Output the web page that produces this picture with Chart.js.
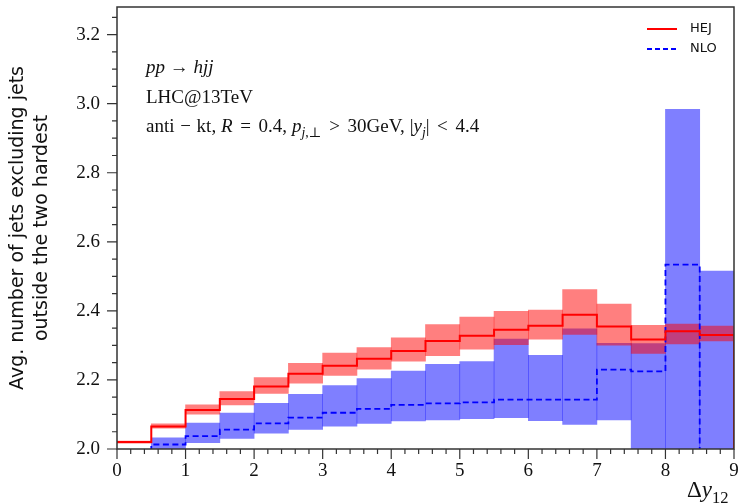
<!DOCTYPE html>
<html>
<head>
<meta charset="utf-8">
<script src="https://cdn.jsdelivr.net/npm/chart.js@4"></script>
<style>
  html, body { margin: 0; padding: 0; background: #fff; }
  #wrap { width: 740px; height: 503px; }
</style>
</head>
<body>
<div id="wrap"><canvas id="myChart" width="740" height="503"></canvas></div>
<script>
// Lower edge of each Δy12 bin, every bin is 0.5 wide
const binLow = [0, 0.5, 1, 1.5, 2, 2.5, 3, 3.5, 4, 4.5, 5, 5.5, 6, 6.5, 7, 7.5, 8, 8.5];
const binWidth = 0.5;

// HEJ: central value and uncertainty band
const hejCentral = [2.020, 2.065, 2.113, 2.145, 2.181, 2.218, 2.241, 2.261, 2.284, 2.313, 2.328, 2.345, 2.357, 2.389, 2.355, 2.317, 2.341, 2.330];
const hejLow     = [2.017, 2.060, 2.101, 2.128, 2.161, 2.191, 2.213, 2.231, 2.254, 2.270, 2.289, 2.302, 2.318, 2.332, 2.301, 2.277, 2.304, 2.313];
const hejHigh    = [2.023, 2.073, 2.128, 2.166, 2.207, 2.248, 2.278, 2.294, 2.322, 2.360, 2.382, 2.399, 2.402, 2.462, 2.420, 2.358, 2.362, 2.356];

// NLO: central value and uncertainty band (null = nothing drawn in that bin)
const nloCentral = [0, 2.013, 2.037, 2.056, 2.074, 2.091, 2.105, 2.116, 2.128, 2.132, 2.135, 2.143, 2.143, 2.143, 2.230, 2.225, 2.534, 1.9];
const nloLow     = [null, 2.000, 2.018, 2.031, 2.046, 2.057, 2.066, 2.074, 2.081, 2.084, 2.088, 2.091, 2.082, 2.071, 2.084, 2.000, 2.000, 2.000];
const nloHigh    = [null, 2.032, 2.075, 2.104, 2.132, 2.158, 2.184, 2.204, 2.226, 2.245, 2.253, 2.318, 2.271, 2.348, 2.306, 2.305, 2.984, 2.515];

// Axis ticks
const xMajorTicks = [0, 1, 2, 3, 4, 5, 6, 7, 8, 9];
const yMajorTicks = [2.0, 2.2, 2.4, 2.6, 2.8, 3.0, 3.2];
const xMinorStep = 0.2;
const yMinorStep = 0.05;
const xRange = [0, 9];
const yRange = [2.0, 3.28];

// Histogram outline: a point at each lower edge, then close at the last edge
function stepPoints(values) {
    const pts = binLow.map((x, i) => ({ x: x, y: values[i] }));
    const end = binLow[binLow.length - 1] + binWidth;
    pts.push({ x: end, y: values[values.length - 1] });
    pts.push({ x: end, y: 0 });
    return pts;
}

// Floating bars for the uncertainty bands
function bandBars(low, high) {
    const out = [];
    binLow.forEach((x, i) => {
        if (low[i] === null || high[i] === null) return;
        out.push({ x: x + binWidth / 2, y: [low[i], high[i]] });
    });
    return out;
}

const serif = '"Liberation Serif", "DejaVu Serif", serif';
const sans = '"DejaVu Sans", "Liberation Sans", sans-serif';

// Draw a line of text made of roman / italic / subscript pieces, gap in em
function drawRich(ctx, x, y, parts, size) {
    parts.forEach(p => {
        const s = p.sub ? size * 0.72 : size;
        x += (p.pre || 0) * size;
        ctx.font = (p.it ? 'italic ' : '') + s + 'px ' + serif;
        ctx.fillText(p.t, x, y + (p.sub ? size * 0.28 : 0));
        x += ctx.measureText(p.t).width + (p.post || 0) * size;
    });
}

const framePlugin = {
    id: 'frame',
    afterDraw(chart) {
        const ctx = chart.ctx;
        const area = chart.chartArea;
        const xs = chart.scales.x;
        const ys = chart.scales.y;
        ctx.save();
        ctx.strokeStyle = '#333';
        ctx.lineWidth = 1.5;
        ctx.strokeRect(area.left, area.top, area.right - area.left, area.bottom - area.top);

        // x ticks, pointing down
        ctx.lineWidth = 1.2;
        ctx.beginPath();
        for (let v = xRange[0]; v <= xRange[1] + 1e-9; v += xMinorStep) {
            const px = xs.getPixelForValue(v);
            const major = Math.abs(v - Math.round(v)) < 1e-6;
            ctx.moveTo(px, area.bottom);
            ctx.lineTo(px, area.bottom + (major ? 10 : 5));
        }
        // y ticks, pointing left
        for (let v = yRange[0]; v <= yRange[1] + 1e-9; v += yMinorStep) {
            const py = ys.getPixelForValue(v);
            const major = Math.abs(v * 5 - Math.round(v * 5)) < 1e-6;
            ctx.moveTo(area.left, py);
            ctx.lineTo(area.left - (major ? 10 : 5), py);
        }
        ctx.stroke();

        // annotations
        ctx.fillStyle = '#111';
        ctx.textBaseline = 'alphabetic';
        ctx.textAlign = 'left';
        drawRich(ctx, 146, 73, [{ t: 'pp', it: true }, { t: ' \u2192 ' }, { t: 'hjj', it: true }], 19);
        drawRich(ctx, 146, 103, [{ t: 'LHC@13TeV' }], 19);
        drawRich(ctx, 146, 132, [
            { t: 'anti', post: 0.3 }, { t: '\u2212', post: 0.3 }, { t: 'kt,', post: 0.26 },
            { t: 'R', it: true, post: 0.4 }, { t: '=', post: 0.4 }, { t: '0.4,', post: 0.26 },
            { t: 'p', it: true }, { t: 'j', it: true, sub: true }, { t: ',\u22A5', sub: true, post: 0.4 },
            { t: '>', post: 0.4 }, { t: '30GeV,', post: 0.26 }, { t: '|' }, { t: 'y', it: true },
            { t: 'j', it: true, sub: true }, { t: '|', post: 0.4 }, { t: '<', post: 0.4 }, { t: '4.4' }
        ], 19);

        // x axis title
        drawRich(ctx, 687, 497, [{ t: '\u0394' }, { t: 'y', it: true }, { t: '12', sub: true }], 23);

        // legend
        ctx.lineWidth = 2;
        ctx.strokeStyle = '#ff0000';
        ctx.beginPath();
        ctx.moveTo(647, 29);
        ctx.lineTo(677, 29);
        ctx.stroke();
        ctx.strokeStyle = '#0000ff';
        ctx.setLineDash([5, 3]);
        ctx.beginPath();
        ctx.moveTo(647, 49);
        ctx.lineTo(677, 49);
        ctx.stroke();
        ctx.setLineDash([]);
        ctx.font = '13px ' + sans;
        ctx.fillStyle = '#111';
        ctx.textBaseline = 'middle';
        ctx.fillText('HEJ', 690, 29);
        ctx.fillText('NLO', 690, 49);
        ctx.restore();
    }
};

const ctx = document.getElementById('myChart').getContext('2d');

new Chart(ctx, {
    type: 'bar',
    data: {
        datasets: [
            {
                type: 'line',
                label: 'HEJ',
                data: stepPoints(hejCentral),
                stepped: 'before',
                borderColor: '#ff0000',
                borderWidth: 2,
                pointRadius: 0,
                fill: false,
                order: 0
            },
            {
                type: 'line',
                label: 'NLO',
                data: stepPoints(nloCentral),
                stepped: 'before',
                borderColor: '#0000ff',
                borderWidth: 1.8,
                borderDash: [6, 3.5],
                pointRadius: 0,
                fill: false,
                order: 1
            },
            {
                label: 'HEJ band',
                data: bandBars(hejLow, hejHigh),
                backgroundColor: 'rgba(255, 0, 0, 0.5)',
                borderWidth: 0,
                grouped: false,
                barPercentage: 1,
                categoryPercentage: 1,
                clip: 0,
                order: 2
            },
            {
                label: 'NLO band',
                data: bandBars(nloLow, nloHigh),
                backgroundColor: 'rgba(0, 0, 255, 0.5)',
                borderWidth: 0,
                grouped: false,
                barPercentage: 1,
                categoryPercentage: 1,
                clip: 0,
                order: 3
            }
        ]
    },
    options: {
        responsive: false,
        animation: false,
        layout: { padding: { left: 0, top: 7, right: 6, bottom: 0 } },
        plugins: {
            legend: { display: false },
            tooltip: { enabled: false }
        },
        scales: {
            x: {
                type: 'linear',
                min: xRange[0],
                max: xRange[1],
                offset: false,
                grid: { display: false, drawTicks: false },
                border: { display: false },
                afterBuildTicks: scale => { scale.ticks = xMajorTicks.map(v => ({ value: v })); },
                afterFit: scale => {
                    scale.height = 54;
                    scale.paddingLeft = 0;
                    scale.paddingRight = 0;
                },
                ticks: {
                    padding: 11,
                    color: '#111',
                    maxRotation: 0,
                    font: { family: serif, size: 19 }
                }
            },
            y: {
                type: 'linear',
                min: yRange[0],
                max: yRange[1],
                grid: { display: false, drawTicks: false },
                border: { display: false },
                afterBuildTicks: scale => { scale.ticks = yMajorTicks.map(v => ({ value: v })); },
                afterFit: scale => {
                    scale.width = 117;
                    scale.paddingTop = 0;
                    scale.paddingBottom = 0;
                },
                ticks: {
                    padding: 17,
                    color: '#111',
                    font: { family: serif, size: 19 },
                    callback: v => Number(v).toFixed(1)
                },
                title: {
                    display: true,
                    text: ['Avg. number of jets excluding jets', 'outside the two hardest'],
                    color: '#111',
                    font: { family: sans, size: 19, lineHeight: '24px' },
                    padding: { top: 6, bottom: 0 }
                }
            }
        }
    },
    plugins: [framePlugin]
});
</script>
</body>
</html>
